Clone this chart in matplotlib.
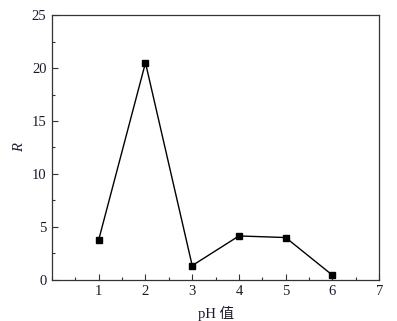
import matplotlib
matplotlib.use('Agg')
import matplotlib.pyplot as plt
from matplotlib.ticker import MultipleLocator

# data
ph = [1, 2, 3, 4, 5, 6]
r_vals = [3.8, 20.5, 1.35, 4.15, 4.0, 0.45]
x_ticks = [1, 2, 3, 4, 5, 6, 7]
y_ticks = [0, 5, 10, 15, 20, 25]

plt.rcParams['font.family'] = ['Liberation Serif', 'Noto Sans CJK SC']
plt.rcParams['font.size'] = 10.5

fig = plt.figure(figsize=(3.97, 3.21), dpi=100)
ax = fig.add_axes([0.131, 0.128, 0.824, 0.825])

ax.plot(ph, r_vals, color='black', lw=1.0, marker='s', ms=4.5,
        markerfacecolor='black', markeredgecolor='black')

ax.set_xlim(0, 7)
ax.set_ylim(0, 25)
ax.set_xticks(x_ticks)
ax.set_yticks(y_ticks)
ax.xaxis.set_minor_locator(MultipleLocator(0.5))
ax.yaxis.set_minor_locator(MultipleLocator(2.5))
ax.tick_params(which='both', direction='in', top=False, right=False,
               colors='#333333', labelcolor='#1a1a2e', width=0.8)
ax.tick_params(which='major', length=4, pad=4)
ax.tick_params(which='minor', length=2.5)

for sp in ax.spines.values():
    sp.set_linewidth(0.9)
    sp.set_color('#333333')

ax.set_xlabel('pH 值', labelpad=5, color='#1a1a2e')
ax.set_ylabel('R', style='italic', labelpad=4, color='#1a1a2e')

fig.savefig('out.png', dpi=100)
plt.close(fig)
